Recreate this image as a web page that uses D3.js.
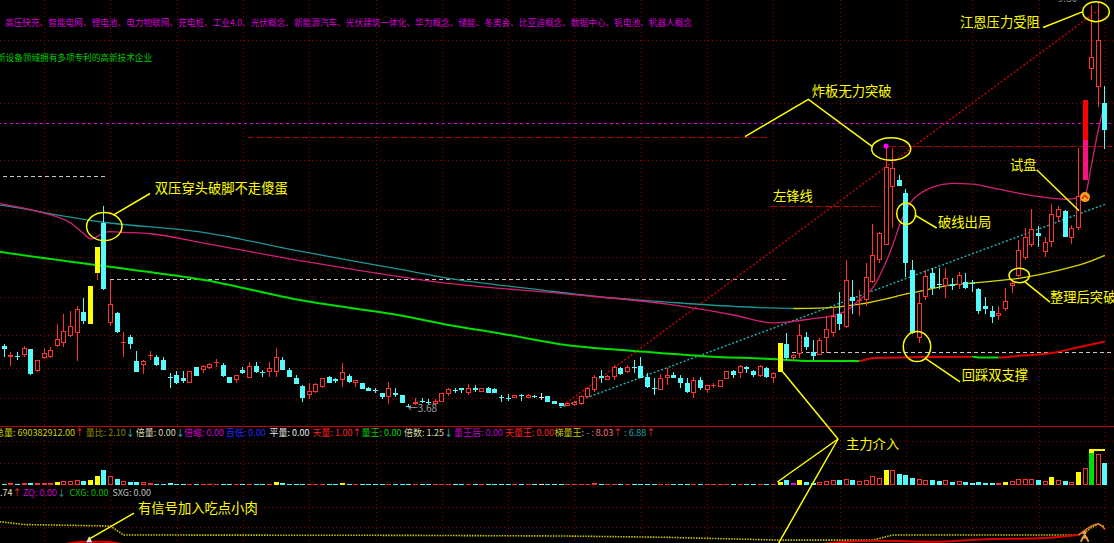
<!DOCTYPE html>
<html><head><meta charset="utf-8">
<script src="https://cdn.jsdelivr.net/npm/d3@7"></script>
<style>
html,body{margin:0;padding:0;background:#000;overflow:hidden}
svg{display:block}
text{font-family:"Noto Sans CJK SC","Noto Sans",sans-serif}
</style></head><body>
<svg id="chart" width="1114" height="543"></svg>
<script>
// ---------------- DATA ----------------
const open=[4.53,4.38,4.39,4.41,4.48,4.18,4.36,4.38,4.53,4.57,
4.67,4.71,5.00,4.83,5.54,6.24,4.85,4.99,4.57,4.65,
4.32,4.27,4.39,4.38,4.33,4.10,4.13,4.09,4.02,4.23,
4.19,4.22,4.29,4.27,4.10,4.06,4.19,4.09,4.25,4.17,
4.16,4.16,4.34,4.19,4.09,3.97,3.84,3.89,3.96,4.10,
4.07,4.05,4.11,4.01,4.01,3.95,3.91,3.87,3.82,3.87,
3.85,3.70,3.72,3.77,3.75,3.72,3.75,3.86,3.92,3.95,
3.87,3.94,3.89,3.95,3.93,3.82,3.80,3.80,3.84,3.81,
3.83,3.82,3.83,3.77,3.73,3.70,3.71,3.72,3.82,3.92,
4.11,4.06,4.10,4.22,4.17,4.24,4.25,4.10,3.94,3.92,
4.08,4.12,4.09,4.01,3.87,4.06,3.92,3.97,3.96,4.07,
4.18,4.15,4.24,4.18,4.11,4.22,4.09,4.17,4.56,4.36,
4.42,4.65,4.45,4.41,4.64,4.71,4.97,4.79,5.21,5.16,
5.17,5.42,5.72,5.93,6.74,6.84,6.65,5.59,4.64,5.21,
5.54,5.39,5.36,5.39,5.38,5.42,5.41,5.32,5.09,5.02,
4.95,5.04,5.36,5.50,5.75,5.93,6.10,5.84,5.97,6.32,
6.41,6.03,6.17,6.84,8.38,8.13,7.91];
const high=[4.55,4.45,4.45,4.53,4.49,4.33,4.50,4.51,4.83,4.97,
5.01,5.08,5.19,5.37,5.90,6.48,5.44,5.00,4.72,4.68,
4.46,4.34,4.46,4.40,4.37,4.15,4.18,4.18,4.18,4.24,
4.26,4.29,4.35,4.29,4.10,4.13,4.24,4.31,4.31,4.19,
4.30,4.50,4.37,4.22,4.13,3.98,4.01,4.01,4.09,4.11,
4.09,4.29,4.14,4.06,4.01,3.96,3.94,3.88,4.03,3.95,
3.85,3.72,3.80,3.80,3.79,3.79,3.87,3.95,3.95,3.95,
4.00,3.99,3.95,3.96,3.95,3.85,3.86,3.84,3.86,3.86,
3.84,3.88,3.83,3.77,3.73,3.73,3.76,3.84,3.96,4.13,
4.20,4.12,4.26,4.24,4.26,4.33,4.37,4.15,4.08,4.14,
4.22,4.16,4.13,4.09,4.10,4.10,3.99,4.01,4.06,4.18,
4.19,4.26,4.25,4.20,4.26,4.24,4.17,4.57,4.71,4.42,
4.83,4.73,4.61,4.64,4.94,5.07,5.28,5.73,5.45,5.31,
5.68,6.23,6.11,7.31,7.28,6.91,6.71,5.73,5.26,5.59,
5.61,5.61,5.61,5.47,5.56,5.54,5.45,5.33,5.21,5.08,
5.08,5.33,5.42,6.00,6.17,6.44,6.20,6.05,6.51,6.48,
6.42,6.21,7.28,7.95,9.27,9.30,8.15];
const low=[4.38,4.25,4.33,4.38,4.13,4.17,4.35,4.36,4.51,4.52,
4.66,4.32,4.84,4.83,5.44,5.31,4.80,4.71,4.38,4.49,
4.17,4.14,4.34,4.25,4.19,3.95,4.00,4.02,4.02,4.11,
4.15,4.21,4.24,4.10,4.01,4.01,4.14,4.09,4.15,4.10,
4.10,4.10,4.19,4.10,4.00,3.75,3.79,3.88,3.95,4.02,
4.01,3.96,4.01,3.96,3.93,3.90,3.88,3.79,3.72,3.82,
3.74,3.68,3.71,3.73,3.72,3.71,3.75,3.83,3.88,3.88,
3.85,3.89,3.89,3.88,3.87,3.75,3.77,3.80,3.77,3.80,
3.81,3.78,3.75,3.72,3.69,3.70,3.70,3.71,3.81,3.89,
4.01,4.05,4.06,4.13,4.15,4.15,4.08,3.95,3.85,3.92,
3.99,4.08,3.94,3.88,3.80,3.92,3.87,3.94,3.96,4.07,
4.09,4.09,4.15,4.10,4.10,4.09,4.01,4.17,4.33,4.34,
4.36,4.47,4.33,4.40,4.43,4.65,4.75,4.78,4.98,4.94,
5.08,5.41,5.68,5.93,6.17,6.75,5.49,4.70,4.57,5.17,
5.24,5.32,5.19,5.31,5.32,5.32,5.28,4.98,4.98,4.85,
4.89,5.01,5.26,5.49,5.73,5.91,5.91,5.77,5.91,6.26,
6.05,5.95,6.14,6.84,8.23,7.85,7.27];
const close=[4.49,4.40,4.38,4.50,4.14,4.33,4.43,4.47,4.62,4.74,
4.81,5.04,4.88,5.37,5.90,5.32,5.11,4.72,4.58,4.56,
4.17,4.32,4.40,4.26,4.20,4.09,4.01,4.04,4.18,4.11,
4.25,4.28,4.30,4.11,4.02,4.12,4.15,4.25,4.17,4.16,
4.22,4.37,4.20,4.10,4.00,3.81,3.90,4.00,4.08,4.02,
4.04,4.17,4.03,4.05,3.93,3.90,3.90,3.82,3.94,3.84,
3.74,3.69,3.75,3.76,3.74,3.76,3.87,3.93,3.91,3.92,
3.95,3.91,3.94,3.88,3.88,3.81,3.79,3.84,3.83,3.85,
3.82,3.82,3.75,3.72,3.70,3.73,3.75,3.83,3.94,4.10,
4.08,4.11,4.24,4.14,4.24,4.23,4.08,3.96,3.93,4.09,
4.13,4.08,4.01,3.89,4.06,3.95,3.98,3.98,4.06,4.18,
4.13,4.25,4.21,4.13,4.25,4.10,4.15,4.57,4.36,4.40,
4.68,4.51,4.39,4.61,4.76,4.95,4.84,5.45,5.15,5.17,
5.49,5.79,6.10,7.02,7.00,6.75,5.69,4.71,5.12,5.50,
5.33,5.38,5.48,5.36,5.52,5.33,5.40,5.02,5.04,4.93,
4.99,5.15,5.40,5.86,6.05,6.15,6.06,5.98,6.36,6.43,
6.05,6.17,6.61,7.95,8.55,8.78,7.53];
const volume=[150,200,150,200,250,200,200,200,330,370,
430,470,430,470,900,1500,900,570,400,300,
300,270,230,150,150,200,150,150,150,150,
120,120,100,120,120,120,100,150,120,100,
120,300,250,150,120,150,150,150,120,100,
100,250,150,100,100,100,100,100,150,100,
120,100,100,100,100,100,150,120,100,100,
120,100,100,100,100,100,100,100,100,100,
100,100,120,100,100,100,100,120,150,200,
150,120,150,120,120,120,150,150,120,150,
150,120,120,120,150,120,100,100,120,150,
120,150,120,120,150,120,120,300,470,230,
530,270,170,270,400,470,470,630,530,400,
530,870,670,1500,1470,1070,970,670,570,530,
470,400,470,300,430,300,230,300,200,170,
170,300,400,630,630,630,530,370,800,530,
430,330,1330,1670,3600,3100,2200];
const yellowCandles=[13,14,117];
const limitUpCandles=[163];
const limitTouchMarks=[133];
const yellowVolBars=[8,13,14,41,51,117,120,133,151,158,162];
const magentaVolBars=[119];
const greenVolBars=[164];
const gridPrices=[3.81,4.22,4.68,5.21,5.77,6.42,7.12,7.91,8.78];
const volGrid=[2230,4430];
const sigGrid=[17.4,40.3];
const gridStartIndex=6, gridEvery=10;
// moving averages: [index, price]
const maShort=[[-0.7,6.51],[5,6.40],[10,6.24],[12,6.09],[13,6.02],[14,6.05],[15,6.10],[16,6.12],[18,6.11],[22,6.09],[30,5.96],[45,5.71],[66,5.41],[85,5.25],[100,5.11],[110,4.96],[116,4.85],[118,4.86],[122,4.91],[125,4.95],[127,5.02],[129,5.17],[131,5.34],[133,5.70],[134,5.93],[135,6.20],[136,6.42],[137,6.56],[138,6.64],[140,6.74],[143,6.79],[146,6.78],[150,6.71],[155,6.62],[160,6.57],[162,6.59],[163,6.63],[164,7.06],[165,7.53],[166,7.91]];
const maMid=[[-0.7,6.49],[0,6.48],[15,6.25],[30,6.11],[45,5.84],[60,5.59],[67,5.47],[80,5.32],[90,5.21],[100,5.14],[110,5.08],[119,5.05],[124,5.06],[129,5.11],[137,5.27],[143,5.38],[148,5.42],[153,5.47],[158,5.56],[163,5.68],[166,5.79]];
const maLong=[[-0.7,5.84],[0,5.83],[15,5.64],[30,5.45],[45,5.16],[60,4.95],[67,4.82],[75,4.70],[85,4.54],[95,4.46],[105,4.39],[115,4.35],[122,4.32],[129,4.32],[131,4.36],[146,4.38],[147,4.37],[150,4.37],[153,4.39],[158,4.43],[162,4.51],[166,4.59]];
// level lines: [price, fromIndex, toIndex]
const whiteLevels=[[6.89,-0.15,15.3],[5.46,15.9,118.2],[4.44,118.8,168]];
const redLevels=[[7.44,36.8,115.2],[7.31,133.6,168],[6.48,115.7,132.3]];
const magentaLevels=[[7.63,-1,168]];
// trend lines: [[index, price],[index, price]]
const redTrend=[[83.8,3.67],[165.3,9.22]];
const cyanTrend=[[83.8,3.67],[166,6.50]];
// bottom indicator series [index, value]
const sigYellow=[[-0.7,23.7],[3,20.5],[15,19],[16,18.9],[18,8.9],[60,8.5],[84,7.8],[100,6.3],[117,3.2],[131,3.2],[134,8.9],[162,8.9],[163,12],[164,17],[165,21],[166,18]];
const sigRedA=[[8,-3],[12,1.4],[15,1.4],[19,-3]];
const sigRedB=[[122,-3],[125,0.3],[132,2.6],[140,1.5],[148,4.1],[156,5.2],[162,8.9]];
const sigOrange=[[162,8.9],[163,14.4],[165,21.1],[166,15.2]];
const topConcepts="高压快充、智能电网、锂电池、电力物联网、充电桩、工业4.0、光伏概念、新能源汽车、光伏建筑一体化、华为概念、储能、冬奥会、比亚迪概念、数据中心、钒电池、机器人概念";
const topIntro="新设备领域拥有多项专利的高新技术企业";
// annotations (data coordinates)
const notes=[
 {t:"双压穿头破脚不走傻蛋",at:[22.7,6.65],line:[[16.44,6.35],[21.98,6.65]],ell:[15.08,6.19,17.7,14]},
 {t:"炸板无力突破",at:[121.8,8.0],line:[[111.72,7.44],[121.27,7.96],[130.98,7.30]],ell:[133.77,7.27,19.5,11.2]},
 {t:"左锋线",at:[115.94,6.54]},
 {t:"破线出局",at:[140.83,6.19],line:[[137.36,6.35],[140.63,6.17]],ell:[136.03,6.37,9.5,10.7]},
 {t:"回踩双支撑",at:[144.4,4.06],line:[[138.87,4.36],[144.15,4.03]],ell:[137.66,4.52,13.7,15]},
 {t:"整理后突破",at:[157.72,5.14],line:[[153.95,5.42],[157.72,5.14]],ell:[153.08,5.51,10.2,7.2]},
 {t:"试盘",at:[151.69,6.98],line:[[155.72,6.98],[162.1,6.41]]},
 {t:"江恩压力受阻",at:[144.15,8.97],line:[[156.68,8.96],[162.7,9.18]],ell:[164.66,9.18,13.3,10]}
];
const volHeader=[
 {x:-5,parts:[["总量: 690382912.00","#d0d000"],["↑","#ff3030"]]},
 {x:85.7,parts:[["量比: 2.10","#8a8a00"],["↓","#40c8c8"]]},
 {x:135.7,parts:[["倍量: 0.00","#d8d8b0"],["↓","#40c8c8"]]},
 {x:184,parts:[["倍缩: 0.00","#d000d0"]]},
 {x:225.7,parts:[["百低: 0.00","#2828ff"]]},
 {x:269.6,parts:[["平量: 0.00","#e8e8e8"]]},
 {x:312.5,parts:[["天量: 1.00","#ff2020"],["↑","#ff3030"]]},
 {x:361.4,parts:[["量王: 0.00","#00d000"]]},
 {x:404,parts:[["倍数: 1.25","#d8d8a8"],["↓","#40c8c8"]]},
 {x:454,parts:[["量王后: 0.00","#c800c8"]]},
 {x:505,parts:[["天量王: 0.00","#ff2020"]]},
 {x:554.6,parts:[["梯量王:","#c8c800"],[" - : 8.03","#ff7070"],["↑","#ff3030"],[" : 6.88","#20a8a8"],["↑","#ff3030"]]}
];
const sigHeader=[
 {x:-5,parts:[["1.74","#e0e0c0"],["↑","#ff3030"]]},
 {x:23,parts:[["ZQ: 0.00","#d000d0"],["↓","#20a8a8"]]},
 {x:69.6,parts:[["CXG: 0.00","#00c000"]]},
 {x:112.5,parts:[["SXG: 0.00","#c0c0c0"]]}
];

// ---------------- SCALES ----------------
const W=1114,H=543,n=open.length;
const svg=d3.select("#chart");
svg.append("rect").attr("width",W).attr("height",H).attr("fill","#000");
const x=d3.scaleBand().domain(d3.range(n)).range([0.985,0.985+6.63*n]).paddingInner(0.25).paddingOuter(0.125);
const step=x.step(), bw=x.bandwidth(), x0=x.range()[0];
const cx=i=>x0+step*(i+0.5);
const y=d3.scaleLinear().domain([3.68,9.30]).range([407,3]);
const yv=d3.scaleLinear().domain([0,4000]).range([485,445]);
const ys=d3.scaleLinear().domain([0,50]).range([543,498]);
let clipN=0;

// ---------------- GRID ----------------
const GRID="#8a0000";
const gg=svg.append("g").attr("shape-rendering","crispEdges");
gg.selectAll("line.v").data(d3.range(gridStartIndex,n,gridEvery)).join("line")
 .attr("x1",i=>Math.round(cx(i))+0.5).attr("x2",i=>Math.round(cx(i))+0.5).attr("y1",0).attr("y2",H)
 .attr("stroke",GRID).attr("stroke-dasharray","1,3");
const hy=[...gridPrices.map(p=>y(p)),...volGrid.map(v=>yv(v)),...sigGrid.map(v=>ys(v))];
gg.selectAll("line.h").data(hy).join("line")
 .attr("x1",0).attr("x2",W).attr("y1",d=>Math.round(d)+0.5).attr("y2",d=>Math.round(d)+0.5)
 .attr("stroke",GRID).attr("stroke-dasharray","1,3");

// ---------------- LEVEL LINES ----------------
function levels(arr,color,dash,wd){
 svg.append("g").attr("shape-rendering","crispEdges").selectAll("line").data(arr).join("line")
  .attr("x1",d=>cx(d[1])).attr("x2",d=>cx(d[2])).attr("y1",d=>Math.round(y(d[0]))+0.5).attr("y2",d=>Math.round(y(d[0]))+0.5)
  .attr("stroke",color).attr("stroke-width",wd).attr("stroke-dasharray",dash);
}
levels(magentaLevels,"#d000d0","3,3",1);
levels(redLevels,"#b00000","6,3",1.6);
levels(whiteLevels,"#c8c8c8","4,3",1.4);

// ---------------- TREND LINES ----------------
function trend(t,color){
 svg.append("line").attr("x1",cx(t[0][0])).attr("y1",y(t[0][1])).attr("x2",cx(t[1][0])).attr("y2",y(t[1][1]))
  .attr("stroke",color).attr("stroke-width",1.4).attr("stroke-dasharray","2,2");
}
trend(redTrend,"#d00000");
trend(cyanTrend,"#20b4b4");

// ---------------- MOVING AVERAGES ----------------
function drawMA(pts,upCol,downCol,wd,ys_,yTop,yBot){
 const line=d3.line().x(d=>cx(d[0])).y(d=>ys_(d[1])).curve(d3.curveMonotoneX);
 const dpath=line(pts);
 if(!downCol){svg.append("path").attr("d",dpath).attr("fill","none").attr("stroke",upCol).attr("stroke-width",wd);return;}
 const runs=[];let cur=null;
 for(let k=0;k<pts.length-1;k++){
  const col=pts[k+1][1]>pts[k][1]?upCol:downCol;
  if(cur&&cur.col===col)cur.b=pts[k+1][0];else{cur={col,a:pts[k][0],b:pts[k+1][0]};runs.push(cur);}
 }
 runs.forEach((r,j)=>{
  const id="clp"+(clipN++);
  const xa=j===0?-10:cx(r.a), xb=j===runs.length-1?W+10:cx(r.b);
  svg.append("clipPath").attr("id",id).append("rect").attr("x",xa).attr("y",yTop).attr("width",xb-xa).attr("height",yBot-yTop);
  svg.append("path").attr("d",dpath).attr("clip-path",`url(#${id})`).attr("fill","none").attr("stroke",r.col).attr("stroke-width",wd);
 });
}
drawMA(maLong,"#e00000","#00e000",2,y,0,425);
drawMA(maMid,"#d8d800","#1e9494",1.3,y,0,425);
drawMA(maShort,"#d42074",null,1.3,y,0,425);

// ---------------- CANDLES ----------------
const UP="#ff3232",DN="#54fcfc",YL="#ffff00",WH="#e6e6e6";
const cg=svg.append("g").attr("shape-rendering","crispEdges");
d3.range(n).forEach(i=>{
 const o=open[i],c=close[i],h=high[i],l=low[i];
 const left=Math.round(x(i)),w=Math.round(bw),mid=left+Math.floor(w/2);
 const yt=Math.round(y(Math.max(o,c))),yb=Math.round(y(Math.min(o,c)));
 const isY=yellowCandles.includes(i),isLU=limitUpCandles.includes(i);
 const up=c>o,flat=c===o;
 const col=isY?YL:(flat?WH:(up?UP:DN));
 const wickCol=isY?UP:col;
 const yh=Math.round(y(h)),yl=Math.round(y(l));
 cg.append("rect").attr("x",mid).attr("y",yh).attr("width",1).attr("height",Math.max(1,yl-yh)).attr("fill",wickCol);
 const bh=Math.max(1,yb-yt);
 if(isLU){
  const ym=Math.round((yt+yb)/2);
  cg.append("rect").attr("x",left).attr("y",yt).attr("width",w).attr("height",ym-yt).attr("fill","#ff0000");
  cg.append("rect").attr("x",left).attr("y",ym).attr("width",w).attr("height",yb-ym).attr("fill","#ff1080");
 } else if(up&&!isY&&bh>2){
  cg.append("rect").attr("x",left+0.5).attr("y",yt+0.5).attr("width",w-1).attr("height",bh-1).attr("fill","#000").attr("stroke",col);
 } else {
  cg.append("rect").attr("x",left).attr("y",yt).attr("width",w).attr("height",bh).attr("fill",col);
 }
});
limitTouchMarks.forEach(i=>svg.append("circle").attr("cx",cx(i)).attr("cy",y(high[i])).attr("r",2.6).attr("fill","#ff00ff"));

// price labels
svg.append("text").attr("x",cx(158.9)).attr("y",y(9.30)-1).attr("font-size",10).attr("fill","#8c8c8c").text("9.30");
const lowIdx=d3.minIndex(low);
svg.append("text").attr("x",cx(lowIdx)-1).attr("y",y(low[lowIdx])+5).attr("font-size",10).attr("fill","#a0a0a0").attr("font-family","Liberation Sans, Arial, sans-serif").text("←3.68");

// ---------------- VOLUME ----------------
svg.append("line").attr("x1",0).attr("x2",W).attr("y1",426.5).attr("y2",426.5).attr("stroke","#c80000").attr("stroke-width",1);
const vg=svg.append("g").attr("shape-rendering","crispEdges");
const base=yv(0);
d3.range(n).forEach(i=>{
 const left=Math.round(x(i)),w=Math.round(bw);
 const top=Math.round(yv(volume[i])),h=Math.max(1,base-top);
 const up=close[i]>open[i],flat=close[i]===open[i];
 if(greenVolBars.includes(i)){
  vg.append("rect").attr("x",left).attr("y",top).attr("width",w).attr("height",h).attr("fill","#00e000");
  vg.append("rect").attr("x",left).attr("y",top).attr("width",w).attr("height",4).attr("fill",YL);
  vg.append("rect").attr("x",left).attr("y",top).attr("width",cx(166)-left).attr("height",1.5).attr("fill",YL);
 } else if(yellowVolBars.includes(i)){
  vg.append("rect").attr("x",left).attr("y",top).attr("width",w).attr("height",h).attr("fill",YL);
 } else if(magentaVolBars.includes(i)){
  vg.append("rect").attr("x",left).attr("y",top).attr("width",w).attr("height",h).attr("fill","#e000e0");
 } else if(up&&h>2){
  vg.append("rect").attr("x",left+0.5).attr("y",top+0.5).attr("width",w-1).attr("height",h-1).attr("fill","#000").attr("stroke",UP);
 } else {
  vg.append("rect").attr("x",left).attr("y",top).attr("width",w).attr("height",h).attr("fill",flat?WH:(up?UP:DN));
 }
});

// ---------------- BOTTOM INDICATOR ----------------
const bl=d3.line().x(d=>cx(d[0])).y(d=>ys(d[1]));
svg.append("path").attr("d",bl(sigYellow)).attr("fill","none").attr("stroke","#c8c800").attr("stroke-width",1.6).attr("stroke-dasharray","1.5,1.2");
const blc=d3.line().x(d=>cx(d[0])).y(d=>ys(d[1])).curve(d3.curveMonotoneX);
[sigRedA,sigRedB].forEach(s=>svg.append("path").attr("d",blc(s)).attr("fill","none").attr("stroke","#e00000").attr("stroke-width",2));
svg.append("path").attr("d",blc(sigOrange)).attr("fill","none").attr("stroke","#e87830").attr("stroke-width",1.5);
// markers
{const mx=cx(12.8),my=ys(4.1);
 svg.append("path").attr("d",`M${mx-3},${my+3}L${mx},${my-3}L${mx+3},${my+3}Z`).attr("fill","#e8e8e8");}
{const mx=cx(162.95),my=ys(7);
 svg.append("path").attr("d",`M${mx-4},${my+5}L${mx},${my-2}L${mx+4},${my+5}M${mx-3},${my+1}L${mx+3},${my+1}`).attr("fill","none").attr("stroke","#f0a040").attr("stroke-width",1.8);
 svg.append("circle").attr("cx",mx).attr("cy",my-4).attr("r",1.8).attr("fill","#f0a040");}

// ---------------- ANNOTATIONS ----------------
const AY="#ffff00";
const ag=svg.append("g");
notes.forEach(nt=>{
 if(nt.line) ag.append("path").attr("d",d3.line().x(d=>cx(d[0])).y(d=>y(d[1]))(nt.line)).attr("fill","none").attr("stroke",AY).attr("stroke-width",1.5);
 if(nt.ell) ag.append("ellipse").attr("cx",cx(nt.ell[0])).attr("cy",y(nt.ell[1])).attr("rx",nt.ell[2]).attr("ry",nt.ell[3]).attr("fill","none").attr("stroke",AY).attr("stroke-width",1.5);
 ag.append("text").attr("x",cx(nt.at[0])).attr("y",y(nt.at[1])).attr("font-size",13.3).attr("fill",AY).text(nt.t);
});
// "试盘" icon
{const ix=cx(163),iy=y(6.60);
 ag.append("circle").attr("cx",ix).attr("cy",iy).attr("r",5).attr("fill","#f0a020");
 ag.append("path").attr("d",`M${ix-3},${iy+1.5}L${ix},${iy-1.5}L${ix+3},${iy+1.5}`).attr("fill","none").attr("stroke","#e02000").attr("stroke-width",1.5);}
// 主力介入 (spans panes)
{const ax=cx(125.75),ay=yv(4600);
 const ends=[[cx(117.4),y(4.17)],[cx(116.6),yv(300)],[cx(116.8),ys(0)]];
 ends.forEach(e=>ag.append("line").attr("x1",ax).attr("y1",ay).attr("x2",e[0]).attr("y2",e[1]).attr("stroke",AY).attr("stroke-width",1.5));
 ag.append("text").attr("x",cx(126.96)).attr("y",yv(3600)).attr("font-size",13.3).attr("fill",AY).text("主力介入");}
// 有信号加入吃点小肉
ag.append("line").attr("x1",cx(19.56)).attr("y1",ys(33.3)).attr("x2",cx(12.78)).attr("y2",ys(4.4)).attr("stroke",AY).attr("stroke-width",1.5);
ag.append("text").attr("x",cx(20.17)).attr("y",ys(33.3)).attr("font-size",13.3).attr("fill",AY).text("有信号加入吃点小肉");

// ---------------- HEADER TEXTS ----------------
svg.append("text").attr("x",5).attr("y",25.5).attr("font-size",9).attr("fill","#d400d4").attr("textLength",687).attr("lengthAdjust","spacingAndGlyphs").text(topConcepts);
svg.append("text").attr("x",-3).attr("y",60.5).attr("font-size",9).attr("fill","#00c800").attr("textLength",155).attr("lengthAdjust","spacingAndGlyphs").text(topIntro);
function header(items,yy){
 items.forEach(it=>{
  const t=svg.append("text").attr("x",it.x).attr("y",yy).attr("font-size",9);
  it.parts.forEach(p=>t.append("tspan").attr("fill",p[1]).text(p[0]));
 });
}
header(volHeader,436.3);
header(sigHeader,496);
</script>
</body></html>
